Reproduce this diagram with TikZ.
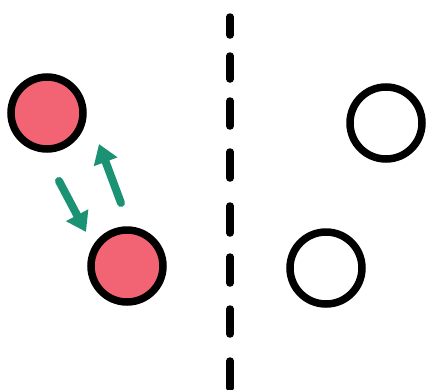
\documentclass[tikz,border=0pt]{standalone}
\usetikzlibrary{arrows.meta}
\definecolor{ballred}{RGB}{242,100,115}
\definecolor{hopteal}{RGB}{28,146,116}
\tikzset{
	every ball/.style={
		circle,
		draw=black,
		line width=7.5pt,
		minimum size=72pt,
		inner sep=0pt
	},
	ball full/.style={fill=ballred},
	ball empty/.style={fill=white},
	hop/.style={
		draw=hopteal,
		line width=8pt,
		line cap=round,
		-{Triangle[width=24pt,length=19pt]}
	},
	divider/.style={line width=7.5pt, line cap=round},
}

\begin{document}
\begin{tikzpicture}[x=1pt, y=-1pt]
\useasboundingbox (0,0) rectangle (428,389);

% left side: two filled balls
\foreach \x/\y [count=\i] in {47/113, 127/266}
	\node [every ball, ball full] (full-\i) at (\x,\y) {};

% right side: two empty places
\foreach \x/\y [count=\i] in {386/123, 326/268}
	\node [every ball, ball empty] (empty-\i) at (\x,\y) {};

% exchange arrows
\coordinate (down-start) at (59,181);
\coordinate (down-end) at (86,232);
\coordinate (up-start) at (121,203);
\coordinate (up-end) at (99,144);
\draw [hop] (down-start) -- (down-end);
\draw [hop] (up-start) -- (up-end);

% dashed wall
\foreach \a/\b in {13/39, 52/83, 97/130, 148/182, 202/237, 253/287, 305/338, 357/392}
	\draw [divider] (230,\a+4) -- (230,\b-4);

\end{tikzpicture}
\end{document}
